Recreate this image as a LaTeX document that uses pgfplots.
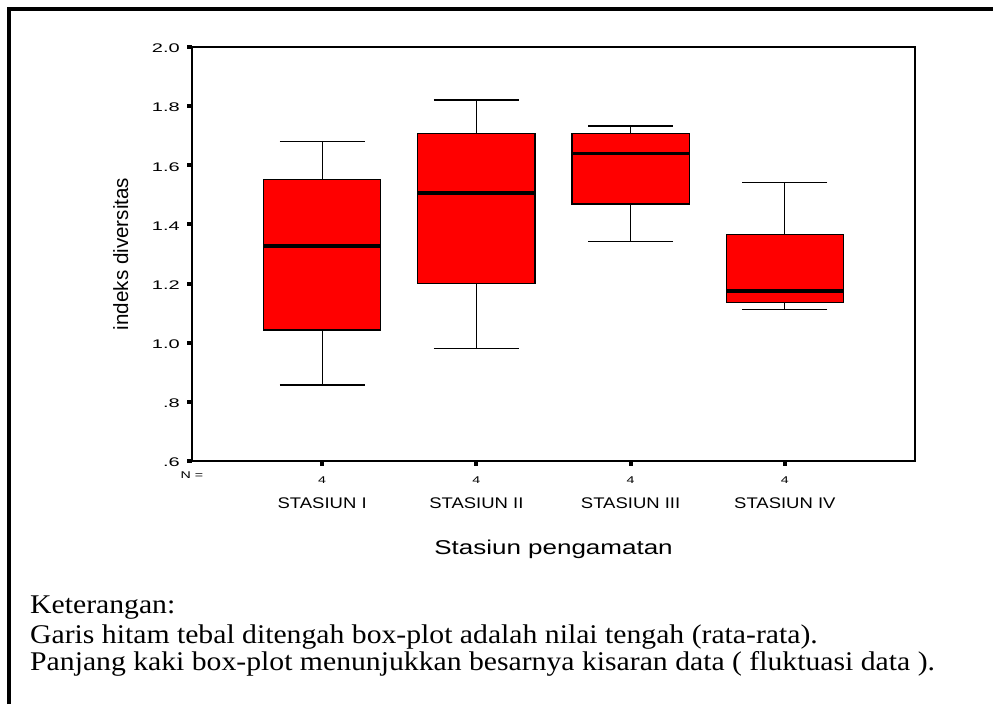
\documentclass[border=0pt]{standalone}
\usepackage{pgfplots}
\pgfplotsset{compat=1.18}
\usepgfplotslibrary{statistics}
\usepackage{fontspec}
\setmainfont{Liberation Serif}
\newfontfamily\arial{Liberation Sans}
\newcommand{\sx}[2]{\scalebox{#1}[1]{#2}}
\newcommand{\yl}[1]{{\arial\fontsize{12.5}{12.5}\selectfont\sx{1.6}{#1}}}
\newcommand{\xl}[1]{{\arial\fontsize{15.4}{15.4}\selectfont\sx{1.2}{#1}}}
\newcommand{\nl}[1]{{\arial\fontsize{9.8}{9.8}\selectfont\sx{1.45}{#1}}}
\begin{document}
\begin{tikzpicture}
\useasboundingbox (0,0) rectangle (993pt,704pt);
\draw[line width=3.6pt] (9.2pt,0pt) -- (9.2pt,694.8pt) -- (993pt,694.8pt);
\begin{axis}[
  at={(192pt,243pt)}, anchor=south west,
  scale only axis, width=723pt, height=414pt,
  xmin=-0.844, xmax=3.844, ymin=0.6, ymax=2.0,
  axis line style={line width=1.7pt},
  boxplot/draw direction=y,
  xtick={0,1,2,3},
  xticklabels={\xl{STASIUN I},\xl{STASIUN II},\xl{STASIUN III},\xl{STASIUN IV}},
  extra x ticks={0,1,2,3},
  extra x tick labels={\nl{4},\nl{4},\nl{4},\nl{4}},
  extra x tick style={xticklabel style={yshift=25pt}},
  ytick={0.6,0.8,1.0,1.2,1.4,1.6,1.8,2.0},
  yticklabels={\yl{.6},\yl{.8},\yl{1.0},\yl{1.2},\yl{1.4},\yl{1.6},\yl{1.8},\yl{2.0}},
  tick align=outside, tick pos=left, major tick length=5pt,
  every tick/.style={line width=4pt, black},
  xticklabel style={anchor=base, inner sep=0pt, yshift=-42.3pt},
  yticklabel style={anchor=east, inner sep=0pt, xshift=-7pt, yshift=-1.5pt},
  clip=false,
]
\addplot[fill=red, draw=black, line width=1.3pt,
  boxplot prepared={draw position=0, lower whisker=0.857, lower quartile=1.043,
    median=1.328, upper quartile=1.553, upper whisker=1.680,
    box extend=0.76, whisker extend=0.55,
    every median/.style={line width=3.6pt}}] coordinates {};
\addplot[fill=red, draw=black, line width=1.3pt,
  boxplot prepared={draw position=1, lower whisker=0.980, lower quartile=1.201,
    median=1.507, upper quartile=1.708, upper whisker=1.821,
    box extend=0.76, whisker extend=0.55,
    every median/.style={line width=3.6pt}}] coordinates {};
\addplot[fill=red, draw=black, line width=1.3pt,
  boxplot prepared={draw position=2, lower whisker=1.342, lower quartile=1.469,
    median=1.640, upper quartile=1.708, upper whisker=1.733,
    box extend=0.76, whisker extend=0.55,
    every median/.style={line width=3.6pt}}] coordinates {};
\addplot[fill=red, draw=black, line width=1.3pt,
  boxplot prepared={draw position=3, lower whisker=1.113, lower quartile=1.137,
    median=1.175, upper quartile=1.365, upper whisker=1.541,
    box extend=0.76, whisker extend=0.55,
    every median/.style={line width=3.6pt}}] coordinates {};
\node[anchor=base, inner sep=0pt] at ([yshift=-17.3pt]rel axis cs:0,0) {\nl{N =}};
\node[anchor=base, inner sep=0pt, rotate=90] at ([xshift=-64pt]rel axis cs:0,0.5)
  {\arial\fontsize{20.6}{20.6}\selectfont indeks diversitas};
\node[anchor=base, inner sep=0pt] at ([yshift=-94pt]rel axis cs:0.5,0)
  {\arial\fontsize{20}{20}\selectfont\sx{1.3}{Stasiun pengamatan}};
\end{axis}
\begin{scope}[every node/.style={anchor=base west, inner sep=0pt}]
\node at (30pt,90.7pt) {\fontsize{27}{27}\selectfont\sx{1.1}{Keterangan:}};
\node at (30pt,60.7pt) {\fontsize{27}{27}\selectfont\sx{1.1}{Garis hitam tebal ditengah box-plot adalah nilai tengah (rata-rata).}};
\node at (30pt,33.3pt) {\fontsize{27}{27}\selectfont\sx{1.1}{Panjang kaki box-plot menunjukkan besarnya kisaran data ( fluktuasi data ).}};
\end{scope}
\end{tikzpicture}
\end{document}
